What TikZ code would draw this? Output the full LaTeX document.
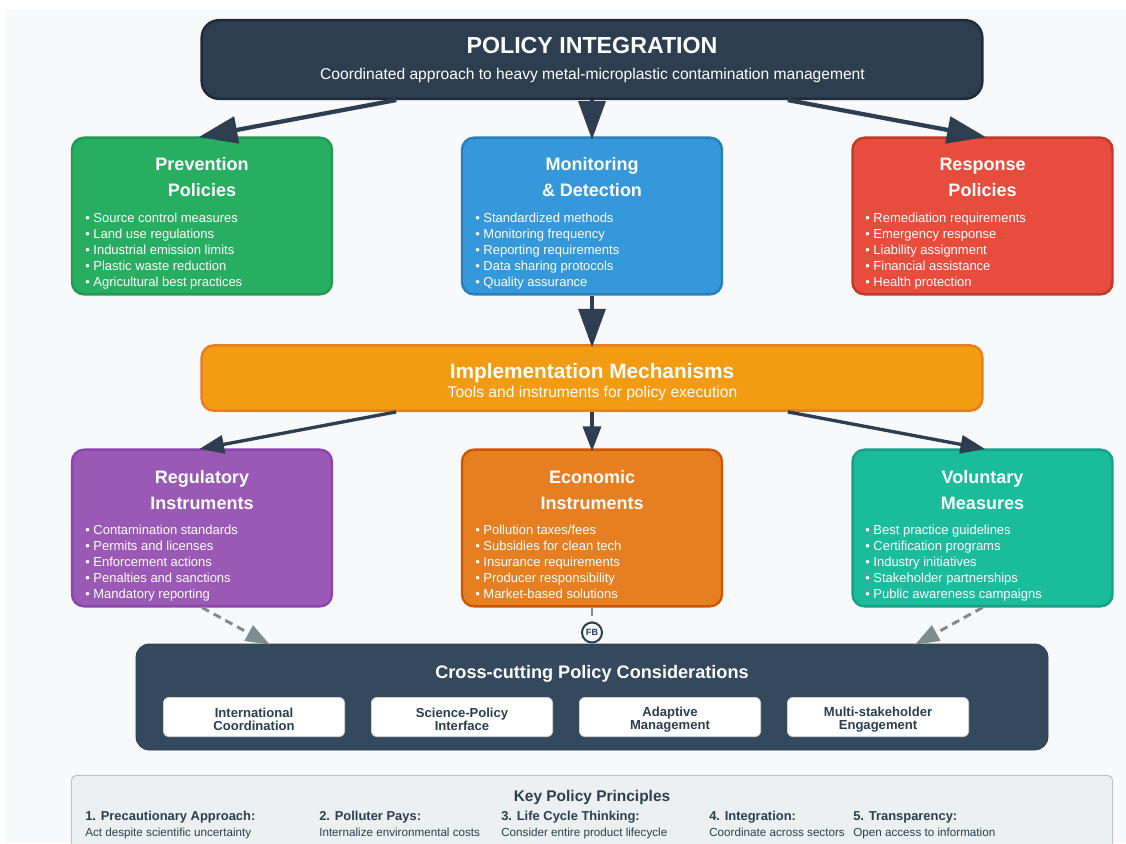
\documentclass[tikz,border=0pt]{standalone}
\usepackage{fontspec}
\setmainfont{Liberation Sans}
\usepackage{xcolor}
\usepackage{tikz}
\usetikzlibrary{arrows.meta,calc}

\definecolor{darkblue}{HTML}{2C3E50}
\definecolor{slateblue}{HTML}{34495E}
\definecolor{pagebg}{HTML}{F8F9FA}
\definecolor{dashgrey}{HTML}{7F8C8D}

\tikzset{
  x=0.75pt, y=-0.75pt,
  policybox/.style={rectangle, rounded corners=9pt, line width=1.8pt, minimum width=195pt, minimum height=117.5pt, inner sep=0pt},
  widebox/.style={rectangle, rounded corners=9pt, line width=1.8pt, minimum width=585.5pt, inner sep=0pt},
  itembox/.style={rectangle, rounded corners=4.5pt, fill=white, draw=white!85!black, line width=0.5pt, minimum width=136pt, minimum height=29.5pt, inner sep=0pt},
  itemtext/.style={align=center, inner sep=0pt, text=darkblue, font=\fontsize{9.8}{9.75}\selectfont\bfseries},
  headtext/.style={text=white, align=center, inner sep=0pt, font=\fontsize{13.5}{19.5}\selectfont\bfseries},
  listtext/.style={text=white, align=left, anchor=north west, inner sep=0pt, font=\fontsize{9.75}{12}\selectfont},
  princhead/.style={anchor=base west, inner sep=0pt, text=darkblue, font=\fontsize{9.7}{9.7}\selectfont\bfseries},
  princtext/.style={anchor=base west, inner sep=0pt, text=darkblue, font=\fontsize{8.75}{9}\selectfont},
  bigarrow/.style={draw=darkblue, line width=3.2pt, shorten >=-2.5pt, -{Triangle[length=29pt,width=20pt]}},
  thinarrow/.style={draw=darkblue, line width=2.5pt, shorten >=-2pt, -{Triangle[length=18.5pt,width=13.5pt]}},
  dasharrow/.style={draw=dashgrey, line width=2.2pt, dash pattern=on 6pt off 4pt, shorten >=-1.5pt, -{Triangle[length=18pt,width=13.5pt,line width=0pt,sep=0pt]}}
}

\begin{document}
\begin{tikzpicture}

\useasboundingbox (0,0) rectangle (1126,843);
\clip (0,0) rectangle (1126,843);
\fill[white] (0,0) rectangle (1126,843);
\fill[pagebg] (6,10) rectangle (1126,843);

% top box
\node[widebox, fill=darkblue, draw=darkblue!70!black, rounded corners=13pt, minimum height=59pt] (top) at (592,59.5) {};
\node[text=white, inner sep=0pt, font=\fontsize{17.4}{18}\selectfont\bfseries] (toptitle) at (592,46) {POLICY INTEGRATION};
\node[text=white, inner sep=0pt, font=\fontsize{11.7}{12}\selectfont] (topsub) at (592.5,75) {Coordinated approach to heavy metal-microplastic contamination management};

% first row
\node[policybox, fill={rgb,255:red,39;green,174;blue,96}, draw={rgb,255:red,34;green,153;blue,84}] (prevention) at (202,216) {};
\node[headtext] (preventionhead) at (202,177) {Prevention\\Policies};
\node[listtext] (preventionlist) at (85,212.5) {• Source control measures\\• Land use regulations\\• Industrial emission limits\\• Plastic waste reduction\\• Agricultural best practices};

\node[policybox, fill={rgb,255:red,52;green,152;blue,219}, draw={rgb,255:red,41;green,128;blue,185}] (monitoring) at (592,216) {};
\node[headtext] (monitoringhead) at (592,177) {Monitoring\\\& Detection};
\node[listtext] (monitoringlist) at (475,212.5) {• Standardized methods\\• Monitoring frequency\\• Reporting requirements\\• Data sharing protocols\\• Quality assurance};

\node[policybox, fill={rgb,255:red,231;green,76;blue,60}, draw={rgb,255:red,192;green,57;blue,43}] (response) at (982.5,216) {};
\node[headtext] (responsehead) at (982.5,177) {Response\\Policies};
\node[listtext] (responselist) at (865,212.5) {• Remediation requirements\\• Emergency response\\• Liability assignment\\• Financial assistance\\• Health protection};

% implementation
\node[widebox, fill={rgb,255:red,243;green,156;blue,18}, draw={rgb,255:red,230;green,126;blue,34}, minimum height=49pt] (impl) at (592,378) {};
\node[text=white, inner sep=0pt, font=\fontsize{15.6}{16}\selectfont\bfseries] (impltitle) at (592,373) {Implementation Mechanisms};
\node[text=white, inner sep=0pt, font=\fontsize{11.7}{12}\selectfont] (implsub) at (592.5,393.5) {Tools and instruments for policy execution};

% second row
\node[policybox, fill={rgb,255:red,155;green,89;blue,182}, draw={rgb,255:red,142;green,68;blue,173}] (regulatory) at (202,528) {};
\node[headtext] (regulatoryhead) at (202,490) {Regulatory\\Instruments};
\node[listtext] (regulatorylist) at (85,524.5) {• Contamination standards\\• Permits and licenses\\• Enforcement actions\\• Penalties and sanctions\\• Mandatory reporting};

\node[policybox, fill={rgb,255:red,230;green,126;blue,34}, draw={rgb,255:red,211;green,84;blue,0}] (economic) at (592,528) {};
\node[headtext] (economichead) at (592,490) {Economic\\Instruments};
\node[listtext] (economiclist) at (475,524.5) {• Pollution taxes/fees\\• Subsidies for clean tech\\• Insurance requirements\\• Producer responsibility\\• Market-based solutions};

\node[policybox, fill={rgb,255:red,26;green,188;blue,156}, draw={rgb,255:red,22;green,160;blue,133}] (voluntary) at (982.5,528) {};
\node[headtext] (voluntaryhead) at (982.5,490) {Voluntary\\Measures};
\node[listtext] (voluntarylist) at (865,524.5) {• Best practice guidelines\\• Certification programs\\• Industry initiatives\\• Stakeholder partnerships\\• Public awareness campaigns};

% cross-cutting
\node[rectangle, rounded corners=10pt, fill=slateblue, draw=slateblue!85!black, line width=0.6pt, minimum width=684pt, minimum height=79.5pt, inner sep=0pt] (cross) at (592,697) {};
\node[text=white, inner sep=0pt, font=\fontsize{13.6}{14}\selectfont\bfseries] (crosstitle) at (592,673.5) {Cross-cutting Policy Considerations};
\node[itembox] (intl) at (254,717) {};
\node[itemtext] (intltext) at (254,719) {International\\Coordination};
\node[itembox] (science) at (462,717) {};
\node[itemtext] (sciencetext) at (462,719) {Science-Policy\\Interface};
\node[itembox] (adaptive) at (670,717) {};
\node[itemtext] (adaptivetext) at (670,720) {Adaptive\\Management};
\node[itembox] (multi) at (878,717) {};
\node[itemtext] (multitext) at (878,720) {Multi-stakeholder\\Engagement};

% principles
\node[rectangle, rounded corners=4pt, fill={rgb,255:red,236;green,240;blue,241}, draw={rgb,255:red,189;green,195;blue,199}, line width=0.8pt, minimum width=781pt, minimum height=70pt, inner sep=0pt] (principles) at (592,822) {};
\node[inner sep=0pt, text=darkblue, font=\fontsize{11.6}{12}\selectfont\bfseries] (princtitle) at (592,797) {Key Policy Principles};
\node[princhead] (precaution) at (85,820) {1. Precautionary Approach:};
\node[princtext] (precautionsub) at (85,836) {Act despite scientific uncertainty};
\node[princhead] (polluter) at (319,820) {2. Polluter Pays:};
\node[princtext] (pollutersub) at (319,836) {Internalize environmental costs};
\node[princhead] (lifecycle) at (501,820) {3. Life Cycle Thinking:};
\node[princtext] (lifecyclesub) at (501,836) {Consider entire product lifecycle};
\node[princhead] (integration) at (709,820) {4. Integration:};
\node[princtext] (integrationsub) at (709,836) {Coordinate across sectors};
\node[princhead] (transparency) at (853,820) {5. Transparency:};
\node[princtext] (transparencysub) at (853,836) {Open access to information};

% connectors
\draw[bigarrow] ($(top.south west)!.25!(top.south east)$) -- (prevention.north);
\draw[bigarrow] (top.south) -- (monitoring.north);
\draw[bigarrow] ($(top.south west)!.75!(top.south east)$) -- (response.north);
\draw[bigarrow] (monitoring.south) -- (impl.north);
\draw[thinarrow] ($(impl.south west)!.25!(impl.south east)$) -- (regulatory.north);
\draw[thinarrow] (impl.south) -- (economic.north);
\draw[thinarrow] ($(impl.south west)!.75!(impl.south east)$) -- (voluntary.north);
\draw[dasharrow] (regulatory.south) -- ($(cross.north west)!.145!(cross.north east)$);
\draw[dasharrow] (voluntary.south) -- ($(cross.north west)!.856!(cross.north east)$);
\draw[draw=dashgrey, line width=2.2pt, dash pattern=on 6pt off 4pt] (economic.south) -- (cross.north);

\node[circle, fill=pagebg, draw=darkblue, line width=1.5pt, minimum size=15pt, inner sep=0pt, text=darkblue, font=\fontsize{6.8}{7}\selectfont\bfseries] (fb) at (592,632.5) {FB};

\end{tikzpicture}
\end{document}
